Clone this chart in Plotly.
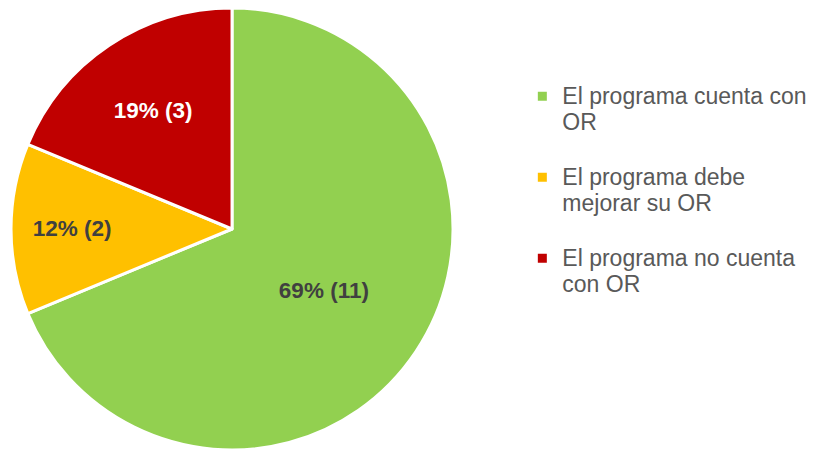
import plotly.graph_objects as go

labels = [["El programa cuenta con", "OR"], ["El programa debe", "mejorar su OR"], ["El programa no cuenta", "con OR"]]
values = [11, 2, 3]
pct_labels = ["69%", "12%", "19%"]
colors = ["#92D050", "#FFC000", "#C00000"]
text_colors = ["#404040", "#404040", "#FFFFFF"]

texts = [f"<b>{p} ({v})</b>" for p, v in zip(pct_labels, values)]


def legend_label(lines):
    styled = [f"<span style='font-size:23px'>{ln}</span>" for ln in lines]
    return "<br>".join(styled) + "<br> "


fig = go.Figure(go.Pie(
    labels=[legend_label(l) for l in labels],
    values=values,
    text=texts,
    textinfo="text",
    textposition="inside",
    insidetextorientation="horizontal",
    insidetextfont=dict(family="Liberation Sans", size=22.5, color=text_colors),
    marker=dict(colors=colors, line=dict(color="white", width=3)),
    sort=False,
    direction="clockwise",
    rotation=0,
    domain=dict(x=[0.00244, 0.5446], y=[0.0156, 1.0]),
    hoverinfo="value",
))

fig.update_layout(
    width=819, height=449,
    margin=dict(l=0, r=0, t=0, b=0),
    paper_bgcolor="white",
    plot_bgcolor="white",
    showlegend=True,
    legend=dict(
        x=0.628, y=0.847, xanchor="left", yanchor="top",
        font=dict(family="Liberation Sans", size=20, color="#595959"),
        valign="top",
        itemwidth=30,
        traceorder="normal",
    ),
)

fig.write_html("out.html")
